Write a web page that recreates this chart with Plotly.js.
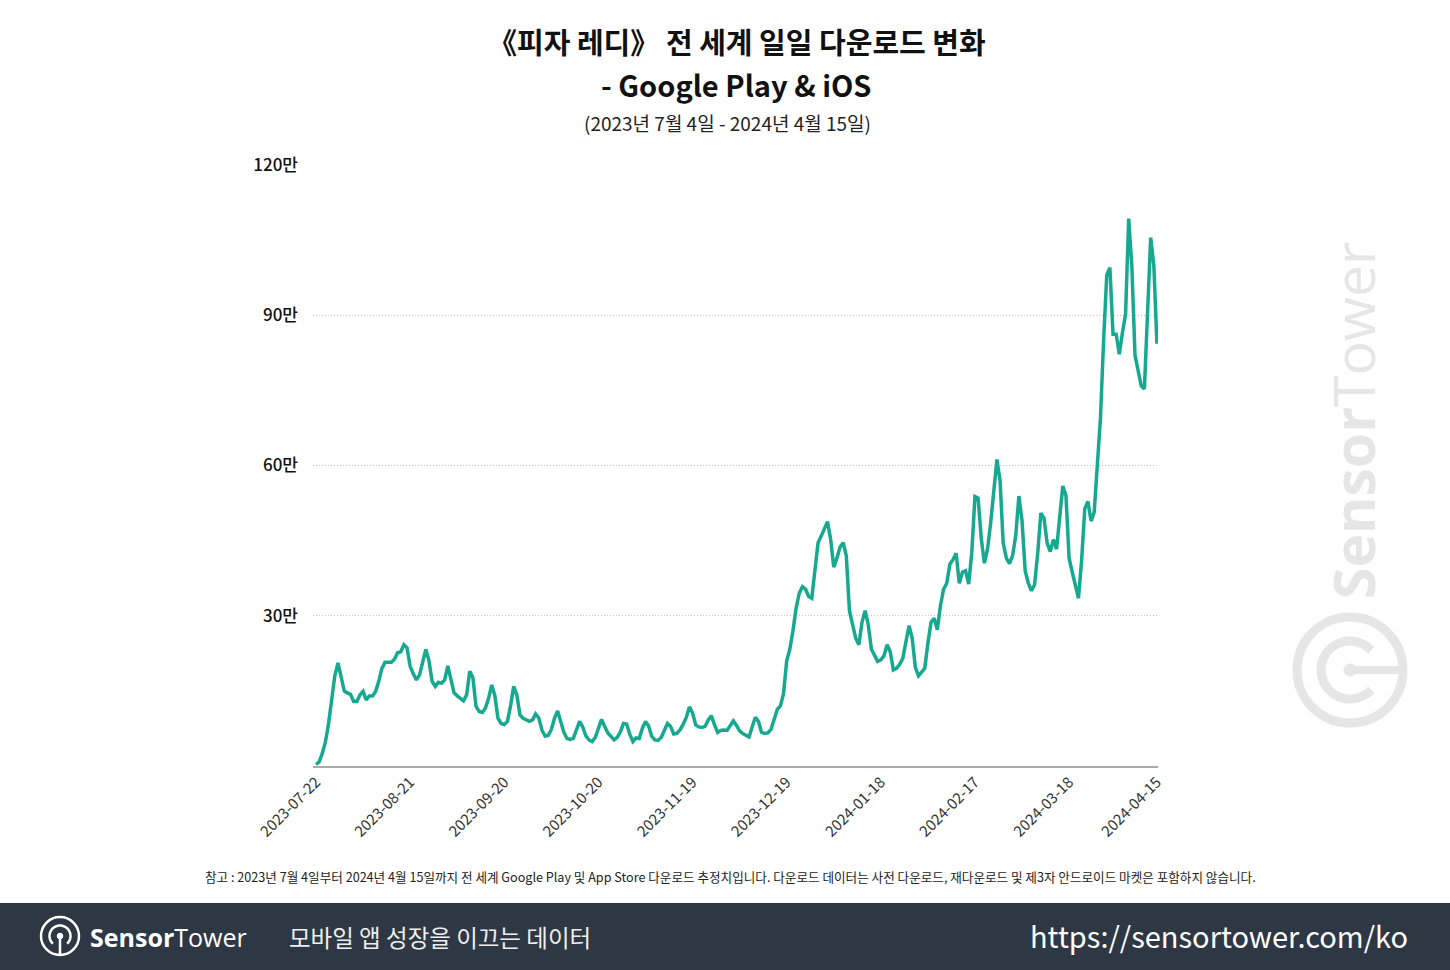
<!DOCTYPE html>
<html>
<head>
<meta charset="utf-8">
<script src="https://cdn.plot.ly/plotly-3.0.1.min.js"></script>
<style>
  html, body { margin: 0; padding: 0; background: #ffffff; }
  #chart { width: 1450px; height: 970px; }
</style>
</head>
<body>
<div id="chart"></div>
<script>
// ---------------- DATA (daily downloads, unit: 만) ----------------
const startDate = '2023-07-22';

// 2023-07-22 .. 2023-09-25
const downloadsJulSep = [
  0.3, 0.8, 2.5, 4.8, 8.5, 13.5, 18, 20.6, 17.5, 15,
  14.6, 14.3, 12.9, 12.9, 14.2, 14.9, 13.2, 14, 14, 14.9,
  16.9, 19.5, 20.7, 20.7, 20.7, 21.3, 22.6, 22.8, 24.2, 23.6,
  19.9, 18.4, 17.2, 18.2, 20.9, 23.3, 21, 16.9, 15.9, 16.7,
  16.5, 17.2, 20, 17.5, 14.6, 14, 13.4, 13, 14.2, 18.9,
  17.6, 11.9, 10.9, 10.7, 11.6, 13.5, 16.2, 14, 9.5, 8.5,
  8.3, 8.9, 12, 15.9, 14.2, 10.2
];
// 2023-09-26 .. 2023-12-10
const downloadsSepDec = [
  9.5, 9.1, 8.9, 9.2, 10.4, 9.6, 7.2, 6, 6.1, 7.3,
  9.5, 11, 8.8, 6.7, 5.5, 5.3, 5.5, 7.2, 8.9, 7.8,
  6, 5.2, 4.9, 5.7, 7.8, 9.3, 7.9, 6.6, 5.9, 5.2,
  5.7, 6.8, 8.5, 8.4, 6.3, 4.9, 5.6, 5.5, 7.5, 8.9,
  8, 5.9, 5.2, 5.1, 5.7, 7, 8.5, 7.9, 6.4, 6.5,
  7.2, 8.3, 9.7, 11.8, 10.6, 8.2, 7.8, 7.7, 7.9, 9.2,
  10, 8.2, 6.7, 7.1, 7.2, 7.1, 8.2, 9, 8.1, 7,
  6.5, 6.1, 5.8, 7.8, 9.7, 8.9
];
// 2023-12-11 .. 2024-02-05
const downloadsDecFeb = [
  6.7, 6.5, 6.6, 7.3, 9.5, 11.3, 12, 14.5, 21, 23.3,
  27, 31.5, 34.5, 35.8, 35.3, 33.9, 33.5, 39, 44.6, 45.9,
  47.2, 48.8, 45.3, 39.7, 41.5, 43.7, 44.6, 42, 31, 28.2,
  25.5, 24.2, 28.7, 31, 28.2, 23.3, 22, 20.9, 21.2, 22,
  24.2, 22.8, 19.2, 19.5, 20.3, 21.5, 24.8, 28, 25.5, 19.7,
  18, 18.9, 19.5, 24.5, 28.7, 29.5, 27.2
];
// 2024-02-06 .. 2024-03-18
const downloadsFebMar = [
  32, 35.3, 36.5, 40.3, 41.2, 42.5, 36.5, 38.7, 39, 36.3,
  42.7, 53.8, 53.5, 45.5, 40.5, 43.3, 48.5, 55.5, 61.2, 57,
  44.5, 41.5, 40.4, 42, 46, 53.9, 49, 39, 36.5, 35,
  36.2, 42.5, 50.5, 49.5, 44.5, 42.8, 45.2, 43.3, 49, 55.9,
  54, 41.5
];
// 2024-03-19 .. 2024-04-15
const downloadsMarApr = [
  38.7, 36.3, 33.5, 41.2, 51.4, 52.8, 48.9, 50.7, 60.3, 69.5,
  85, 98, 99.5, 86.2, 86.2, 82.2, 86.5, 90.3, 109.3, 99.8,
  82, 78.9, 75.9, 75.3, 89, 105.5, 100, 84.3
];

const tickDates  = ['2023-07-22','2023-08-21','2023-09-20','2023-10-20','2023-11-19',
                    '2023-12-19','2024-01-18','2024-02-17','2024-03-18','2024-04-15'];
const tickLabels = ['2023-07-22','2023-08-21','2023-09-20','2023-10-20','2023-11-19',
                    '2023-12-19','2024-01-18','2024-02-17','2024-03-18','2024-04-15'];
const yTickVals  = [30, 60, 90, 120];
const yTickText  = ['30만', '60만', '90만', '120만'];

// ---------------- BUILD ----------------
const values = [].concat(downloadsJulSep, downloadsSepDec, downloadsDecFeb, downloadsFebMar, downloadsMarApr);
const dates = [];
{
  const d0 = new Date(startDate + 'T00:00:00Z');
  for (let i = 0; i < values.length; i++) {
    const d = new Date(d0.getTime() + i * 86400000);
    dates.push(d.toISOString().slice(0, 10));
  }
}

const W = 1450, H = 970, L = 313, R = 1158, T = 165, B = 766;
const fx = x => (x - L) / (R - L);
const fy = y => (B - y) / (B - T);

function circle(cx, cy, r, color, width, fill) {
  return { type: 'circle', xref: 'paper', yref: 'paper', layer: 'above',
    x0: fx(cx - r), x1: fx(cx + r), y0: fy(cy + r), y1: fy(cy - r),
    line: { color: color, width: width }, fillcolor: fill || 'rgba(0,0,0,0)' };
}
function arc(cx, cy, r, a0, a1, color, width) {
  const pts = [];
  const n = 48;
  for (let i = 0; i <= n; i++) {
    const a = a0 + (a1 - a0) * i / n;
    pts.push(fx(cx + r * Math.cos(a)).toFixed(5) + ',' + fy(cy + r * Math.sin(a)).toFixed(5));
  }
  return { type: 'path', xref: 'paper', yref: 'paper', layer: 'above',
    path: 'M' + pts.join('L'), line: { color: color, width: width } };
}
function seg(x0, y0, x1, y1, color, width) {
  return { type: 'line', xref: 'paper', yref: 'paper', layer: 'above',
    x0: fx(x0), y0: fy(y0), x1: fx(x1), y1: fy(y1), line: { color: color, width: width } };
}

const FONT = '"Noto Sans CJK KR", "Noto Sans", sans-serif';
const wm = '#e6e6e6';
const shapes = [
  // footer band
  { type: 'rect', xref: 'paper', yref: 'paper', layer: 'below',
    x0: fx(-5), x1: fx(1455), y0: fy(903), y1: fy(975),
    line: { width: 0 }, fillcolor: '#2e3845' },
  // watermark logo (rotated)
  circle(1350, 670, 53, wm, 9),
  arc(1350, 670, 29, 0.75, 2 * Math.PI - 0.75, wm, 9),
  seg(1350, 670, 1404, 670, wm, 8),
  circle(1350, 670, 6, wm, 1, wm),
  // footer logo
  circle(60, 936, 19, '#ffffff', 2.5),
  arc(60, 936, 10.5, Math.PI / 2 + 0.75, Math.PI / 2 + 2 * Math.PI - 0.75, '#ffffff', 2.5),
  seg(60, 936, 60, 955, '#ffffff', 2.5),
  circle(60, 936, 2.8, '#ffffff', 1, '#ffffff')
];

const annotations = [
  { text: '<b>《피자 레디》 전 세계 일일 다운로드 변화</b>', x: fx(737), y: fy(41),
    font: { family: FONT, size: 29, color: '#111111' } },
  { text: '<b>- Google Play &amp; iOS</b>', x: fx(736), y: fy(84),
    font: { family: FONT, size: 29, color: '#111111' } },
  { text: '(2023년 7월 4일 - 2024년 4월 15일)', x: fx(727), y: fy(122),
    font: { family: FONT, size: 19, color: '#222222' } },
  { text: '참고 : 2023년 7월 4일부터 2024년 4월 15일까지 전 세계 Google Play 및 App Store 다운로드 추정치입니다. 다운로드 데이터는 사전 다운로드, 재다운로드 및 제3자 안드로이드 마켓은 포함하지 않습니다.',
    x: fx(730), y: fy(876), font: { family: FONT, size: 12.6, color: '#222222' } },
  // watermark text
  { text: '<b>Sensor</b>Tower', x: fx(1353), y: fy(421), textangle: -90,
    font: { family: '"Open Sans", sans-serif', size: 57, color: wm } },
  // footer texts
  { text: '<b>Sensor</b>Tower', x: fx(88), y: fy(937), xanchor: 'left',
    font: { family: '"Open Sans", sans-serif', size: 25, color: '#ffffff' } },
  { text: '모바일 앱 성장을 이끄는 데이터', x: fx(287), y: fy(937), xanchor: 'left',
    font: { family: FONT, size: 23.5, color: '#eeeeee' } },
  { text: 'https://sensortower.com/ko', x: fx(1410), y: fy(935), xanchor: 'right',
    font: { family: FONT, size: 29, color: '#ffffff' } }
].map(a => Object.assign({ xref: 'paper', yref: 'paper', showarrow: false,
  xanchor: 'center', yanchor: 'middle' }, a));

const trace = {
  type: 'scatter', mode: 'lines', x: dates, y: values,
  line: { color: '#17a98f', width: 3.5 },
  cliponaxis: false,
  hoverinfo: 'x+y'
};

const layout = {
  width: W, height: H,
  margin: { l: L, r: W - R, t: T, b: H - B, pad: 0 },
  paper_bgcolor: '#ffffff', plot_bgcolor: '#ffffff',
  showlegend: false,
  font: { family: FONT, color: '#222222' },
  xaxis: {
    type: 'date',
    range: ['2023-07-21 01:00', '2024-04-15 08:00'],
    tickvals: tickDates, ticktext: tickLabels,
    tickangle: -45,
    tickfont: { family: FONT, size: 15, color: '#333333' },
    showgrid: false, zeroline: false,
    showline: true, linecolor: '#aaaaaa', linewidth: 1.5,
    ticks: '', fixedrange: true
  },
  yaxis: {
    range: [0, 120],
    tickvals: yTickVals, ticktext: yTickText,
    tickfont: { family: FONT, size: 17, color: '#111111', weight: 500 },
    showgrid: true, gridcolor: '#c4c4c4', gridwidth: 1, griddash: '1px,2px',
    zeroline: false, showline: false,
    ticks: '', ticklabelstandoff: 14, fixedrange: true
  },
  shapes: shapes,
  annotations: annotations
};

Plotly.newPlot('chart', [trace], layout, { displayModeBar: false, staticPlot: true });
</script>
</body>
</html>
